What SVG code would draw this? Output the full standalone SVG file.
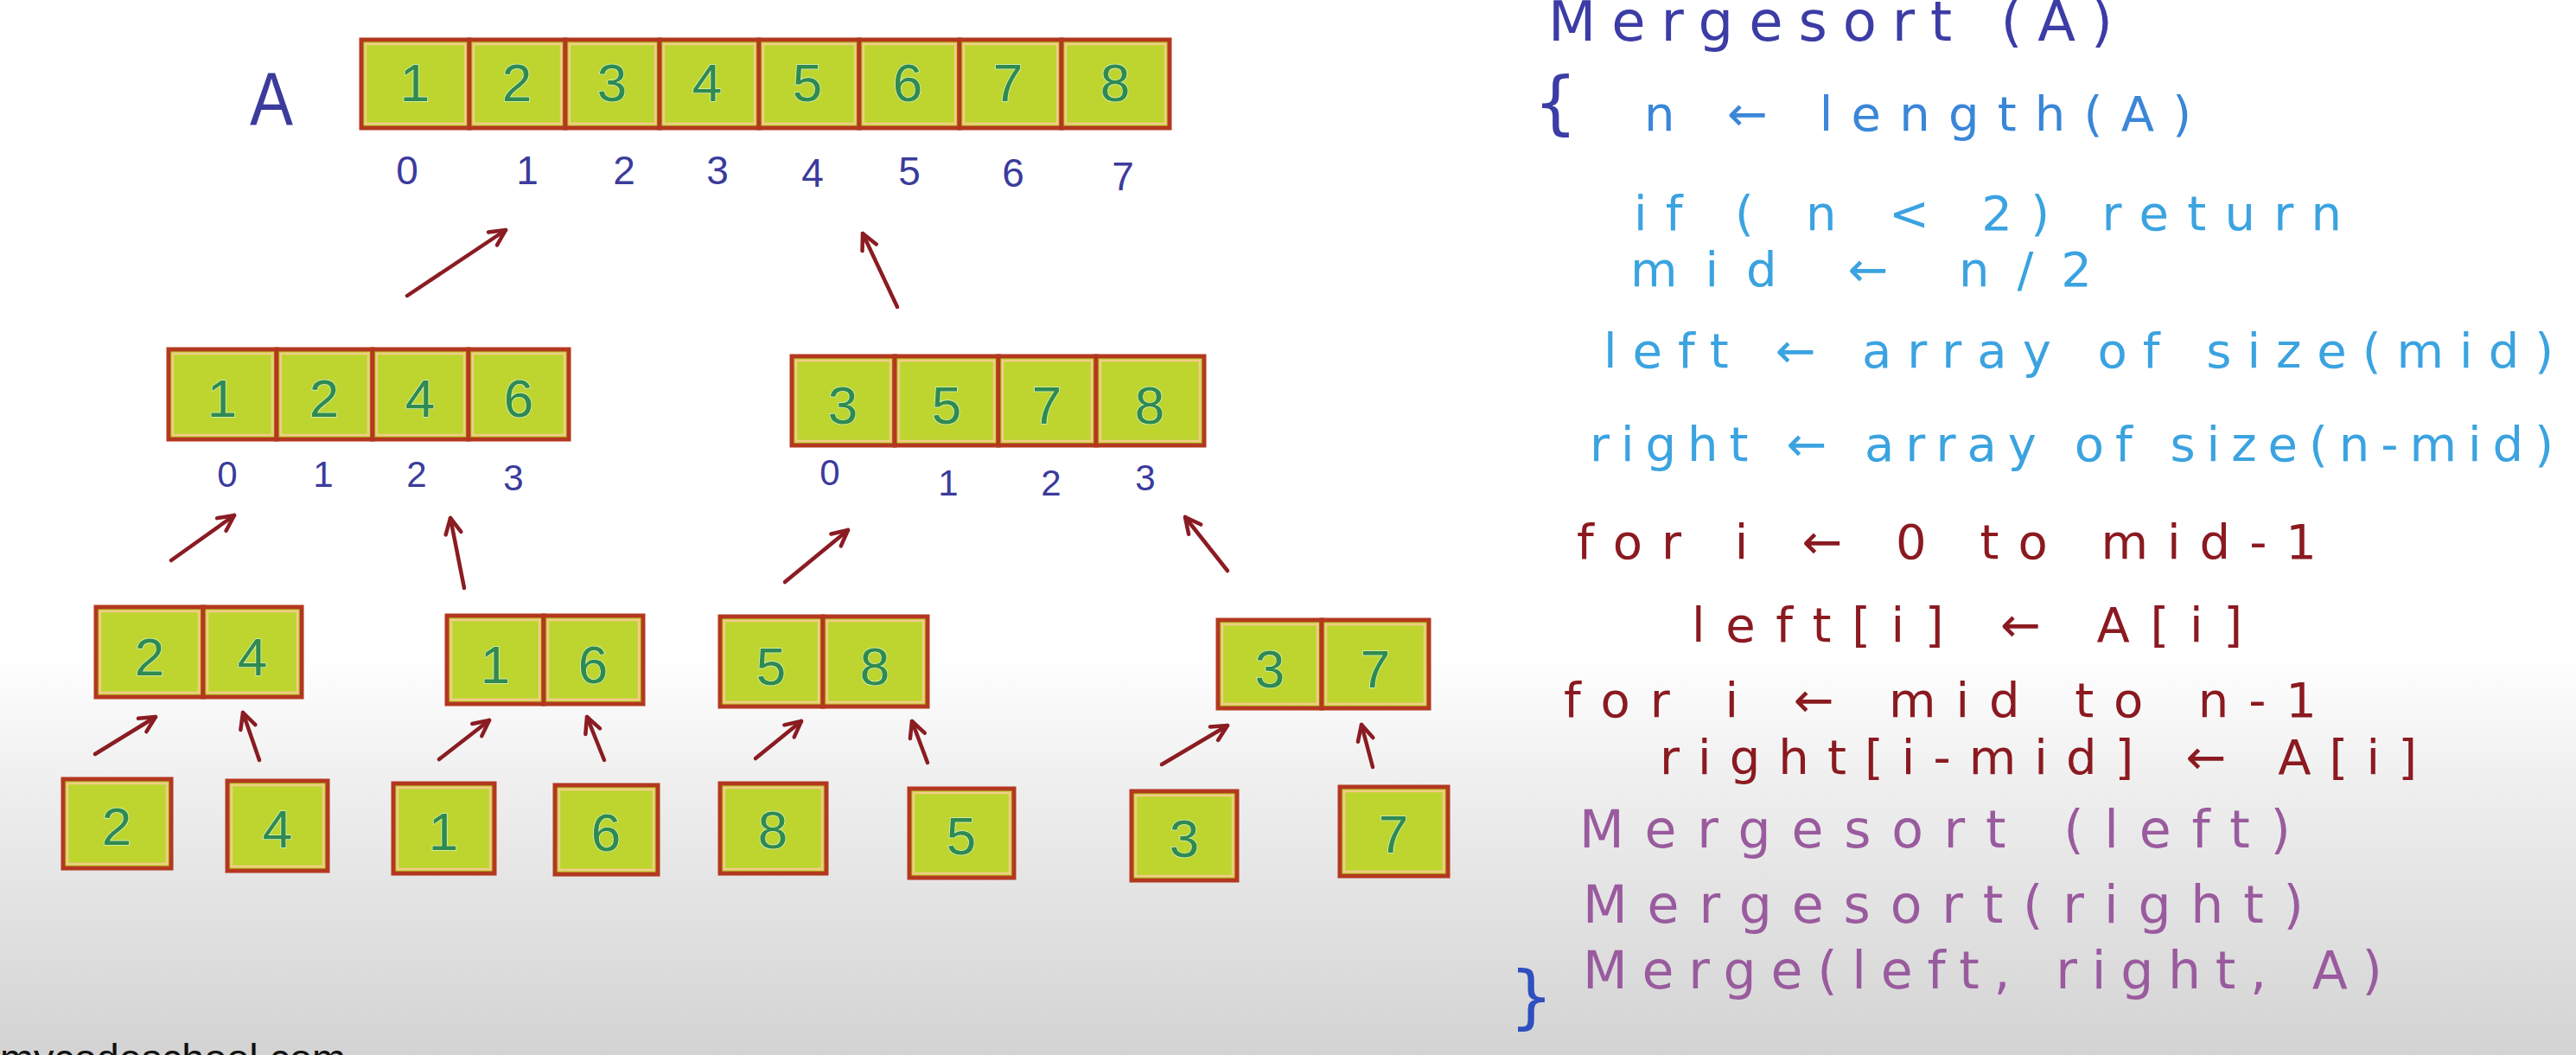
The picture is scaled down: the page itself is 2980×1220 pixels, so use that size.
<svg xmlns="http://www.w3.org/2000/svg" width="2980" height="1220" viewBox="0 0 2980 1220">
<defs>
<linearGradient id="bg" x1="0" y1="0" x2="0" y2="1">
<stop offset="0" stop-color="#ffffff"/>
<stop offset="0.62" stop-color="#ffffff"/>
<stop offset="0.74" stop-color="#efefef"/>
<stop offset="1" stop-color="#d3d3d3"/>
</linearGradient>
<marker id="ah" viewBox="0 0 24 24" refX="21" refY="12" markerWidth="24" markerHeight="24" markerUnits="userSpaceOnUse" orient="auto">
<path d="M3,3 L21,12 L3,21" fill="none" stroke="#8a1c22" stroke-width="4.5" stroke-linecap="round" stroke-linejoin="round"/>
</marker>
</defs>
<style>
.cell{fill:#bdd52e;stroke:#b3381f;stroke-width:5}
.inner{fill:none;stroke:#f3cb8c;stroke-width:2.5}
.dig{font-family:"Liberation Sans",Arial,sans-serif;font-size:62px;fill:#2f8a50;text-anchor:middle;stroke:#d9f3c6;stroke-width:1.5;paint-order:stroke}
.idx{font-family:"Liberation Sans",Arial,sans-serif;fill:#3b3b9c;text-anchor:middle}
.arr{fill:none;stroke:#8a1c22;stroke-width:4.5;stroke-linecap:round;marker-end:url(#ah)}
.code{font-family:"DejaVu Sans","Liberation Sans",sans-serif;font-size:56px}
.c1{fill:#3c3ca6}
.c2{fill:#3a86d8}
.c3{fill:#3ba3e0}
.c4{fill:#8b1a20}
.c5{fill:#9a5b9e}
</style>
<rect x="0" y="0" width="2980" height="1220" fill="url(#bg)"/>

<!-- Level 0 : A -->
<g id="nodeA">
<text class="idx" x="314" y="145" font-size="88" textLength="50" lengthAdjust="spacingAndGlyphs">A</text>
<rect class="cell" x="418" y="46" width="125" height="102"/><rect class="inner" x="423" y="51" width="115" height="92"/><text class="dig" x="480" y="117">1</text>
<rect class="cell" x="543" y="46" width="111" height="102"/><rect class="inner" x="548" y="51" width="101" height="92"/><text class="dig" x="598" y="117">2</text>
<rect class="cell" x="654" y="46" width="109" height="102"/><rect class="inner" x="659" y="51" width="99" height="92"/><text class="dig" x="708" y="117">3</text>
<rect class="cell" x="763" y="46" width="115" height="102"/><rect class="inner" x="768" y="51" width="105" height="92"/><text class="dig" x="818" y="117">4</text>
<rect class="cell" x="878" y="46" width="116" height="102"/><rect class="inner" x="883" y="51" width="106" height="92"/><text class="dig" x="934" y="117">5</text>
<rect class="cell" x="994" y="46" width="116" height="102"/><rect class="inner" x="999" y="51" width="106" height="92"/><text class="dig" x="1050" y="117">6</text>
<rect class="cell" x="1110" y="46" width="118" height="102"/><rect class="inner" x="1115" y="51" width="108" height="92"/><text class="dig" x="1166" y="117">7</text>
<rect class="cell" x="1228" y="46" width="125" height="102"/><rect class="inner" x="1233" y="51" width="115" height="92"/><text class="dig" x="1290" y="117">8</text>
<g font-size="46">
<text class="idx" x="471" y="213">0</text>
<text class="idx" x="610" y="213">1</text>
<text class="idx" x="722" y="213">2</text>
<text class="idx" x="830" y="213">3</text>
<text class="idx" x="940" y="216">4</text>
<text class="idx" x="1052" y="214">5</text>
<text class="idx" x="1172" y="216">6</text>
<text class="idx" x="1299" y="220">7</text>
</g>
</g>

<!-- Level 1 -->
<g id="nodeL">
<rect class="cell" x="195" y="404" width="125" height="104"/><rect class="inner" x="200" y="409" width="115" height="94"/><text class="dig" x="257" y="482">1</text>
<rect class="cell" x="320" y="404" width="111" height="104"/><rect class="inner" x="325" y="409" width="101" height="94"/><text class="dig" x="375" y="482">2</text>
<rect class="cell" x="431" y="404" width="111" height="104"/><rect class="inner" x="436" y="409" width="101" height="94"/><text class="dig" x="486" y="482">4</text>
<rect class="cell" x="542" y="404" width="116" height="104"/><rect class="inner" x="547" y="409" width="106" height="94"/><text class="dig" x="600" y="482">6</text>
<g font-size="42">
<text class="idx" x="263" y="563">0</text>
<text class="idx" x="374" y="563">1</text>
<text class="idx" x="482" y="563">2</text>
<text class="idx" x="594" y="567">3</text>
</g>
</g>
<g id="nodeR">
<rect class="cell" x="916" y="412" width="119" height="103"/><rect class="inner" x="921" y="417" width="109" height="93"/><text class="dig" x="975" y="490">3</text>
<rect class="cell" x="1035" y="412" width="120" height="103"/><rect class="inner" x="1040" y="417" width="110" height="93"/><text class="dig" x="1095" y="490">5</text>
<rect class="cell" x="1155" y="412" width="113" height="103"/><rect class="inner" x="1160" y="417" width="103" height="93"/><text class="dig" x="1211" y="490">7</text>
<rect class="cell" x="1268" y="412" width="125" height="103"/><rect class="inner" x="1273" y="417" width="115" height="93"/><text class="dig" x="1330" y="490">8</text>
<g font-size="42">
<text class="idx" x="960" y="561">0</text>
<text class="idx" x="1097" y="573">1</text>
<text class="idx" x="1216" y="573">2</text>
<text class="idx" x="1325" y="567">3</text>
</g>
</g>

<!-- Level 2 -->
<g id="nodeLL">
<rect class="cell" x="111" y="702" width="124" height="104"/><rect class="inner" x="116" y="707" width="114" height="94"/><text class="dig" x="173" y="781">2</text>
<rect class="cell" x="235" y="702" width="114" height="104"/><rect class="inner" x="240" y="707" width="104" height="94"/><text class="dig" x="292" y="781">4</text>
</g>
<g id="nodeLR">
<rect class="cell" x="517" y="712" width="112" height="102"/><rect class="inner" x="522" y="717" width="102" height="92"/><text class="dig" x="573" y="790">1</text>
<rect class="cell" x="629" y="712" width="115" height="102"/><rect class="inner" x="634" y="717" width="105" height="92"/><text class="dig" x="686" y="790">6</text>
</g>
<g id="nodeRL">
<rect class="cell" x="833" y="713" width="119" height="104"/><rect class="inner" x="838" y="718" width="109" height="94"/><text class="dig" x="892" y="792">5</text>
<rect class="cell" x="952" y="713" width="121" height="104"/><rect class="inner" x="957" y="718" width="111" height="94"/><text class="dig" x="1012" y="792">8</text>
</g>
<g id="nodeRR">
<rect class="cell" x="1409" y="717" width="120" height="102"/><rect class="inner" x="1414" y="722" width="110" height="92"/><text class="dig" x="1469" y="795">3</text>
<rect class="cell" x="1529" y="717" width="124" height="102"/><rect class="inner" x="1534" y="722" width="114" height="92"/><text class="dig" x="1591" y="795">7</text>
</g>

<!-- Level 3 -->
<g id="leaf2"><rect class="cell" x="73" y="901" width="125" height="103"/><rect class="inner" x="78" y="906" width="115" height="93"/><text class="dig" x="135" y="977">2</text></g>
<g id="leaf4"><rect class="cell" x="263" y="903" width="116" height="104"/><rect class="inner" x="268" y="908" width="106" height="94"/><text class="dig" x="321" y="980">4</text></g>
<g id="leaf1"><rect class="cell" x="455" y="906" width="117" height="104"/><rect class="inner" x="460" y="911" width="107" height="94"/><text class="dig" x="513" y="983">1</text></g>
<g id="leaf6"><rect class="cell" x="642" y="908" width="119" height="103"/><rect class="inner" x="647" y="913" width="109" height="93"/><text class="dig" x="701" y="984">6</text></g>
<g id="leaf8"><rect class="cell" x="833" y="906" width="123" height="104"/><rect class="inner" x="838" y="911" width="113" height="94"/><text class="dig" x="894" y="981">8</text></g>
<g id="leaf5"><rect class="cell" x="1052" y="912" width="121" height="103"/><rect class="inner" x="1057" y="917" width="111" height="93"/><text class="dig" x="1112" y="988">5</text></g>
<g id="leaf3"><rect class="cell" x="1309" y="915" width="122" height="103"/><rect class="inner" x="1314" y="920" width="112" height="93"/><text class="dig" x="1370" y="991">3</text></g>
<g id="leaf7"><rect class="cell" x="1550" y="910" width="125" height="103"/><rect class="inner" x="1555" y="915" width="115" height="93"/><text class="dig" x="1612" y="986">7</text></g>

<!-- Connectors -->
<g id="connectors">
<line class="arr" x1="471" y1="342" x2="585" y2="266"/>
<line class="arr" x1="1038" y1="355" x2="998" y2="270"/>
<line class="arr" x1="198" y1="648" x2="271" y2="596"/>
<line class="arr" x1="537" y1="680" x2="521" y2="599"/>
<line class="arr" x1="908" y1="673" x2="981" y2="613"/>
<line class="arr" x1="1420" y1="660" x2="1371" y2="598"/>
<line class="arr" x1="110" y1="872" x2="180" y2="829"/>
<line class="arr" x1="300" y1="879" x2="281" y2="824"/>
<line class="arr" x1="508" y1="878" x2="566" y2="833"/>
<line class="arr" x1="699" y1="879" x2="679" y2="829"/>
<line class="arr" x1="874" y1="877" x2="927" y2="834"/>
<line class="arr" x1="1073" y1="882" x2="1055" y2="834"/>
<line class="arr" x1="1344" y1="884" x2="1420" y2="839"/>
<line class="arr" x1="1588" y1="887" x2="1575" y2="838"/>
</g>

<!-- Pseudocode -->
<g id="code" class="code">
<text class="c1" x="1791" y="47" font-size="64" textLength="653" lengthAdjust="spacing">Mergesort (A)</text>
<text class="c1" x="1774" y="146" font-size="80">{</text>
<text class="c2" x="1902" y="151" textLength="633" lengthAdjust="spacing">n ← length(A)</text>
<text class="c3" x="1890" y="266" textLength="819" lengthAdjust="spacing">if ( n &lt; 2) return</text>
<text class="c3" x="1886" y="331" textLength="534" lengthAdjust="spacing">mid ← n/2</text>
<text class="c3" x="1855" y="425" textLength="1099" lengthAdjust="spacing">left ← array of size(mid)</text>
<text class="c3" x="1839" y="533" textLength="1115" lengthAdjust="spacing">right ← array of size(n-mid)</text>
<text class="c4" x="1824" y="646" textLength="856" lengthAdjust="spacing">for i ← 0 to mid-1</text>
<text class="c4" x="1957" y="742" textLength="637" lengthAdjust="spacing">left[i] ← A[i]</text>
<text class="c4" x="1809" y="829" textLength="871" lengthAdjust="spacing">for i ← mid to n-1</text>
<text class="c4" x="1920" y="895" textLength="876" lengthAdjust="spacing">right[i-mid] ← A[i]</text>
<text class="c5" x="1827" y="980" font-size="60" textLength="823" lengthAdjust="spacing">Mergesort (left)</text>
<text class="c5" x="1831" y="1067" font-size="60" textLength="834" lengthAdjust="spacing">Mergesort(right)</text>
<text class="c5" x="1831" y="1143" font-size="60" textLength="925" lengthAdjust="spacing">Merge(left, right, A)</text>
<text x="1746" y="1180" font-size="80" fill="#2f4fc0">}</text>
</g>

<text x="0" y="1240" font-family="Liberation Sans,Arial,sans-serif" font-size="47" fill="#111111" textLength="400" lengthAdjust="spacingAndGlyphs">mycodeschool.com</text>
</svg>
